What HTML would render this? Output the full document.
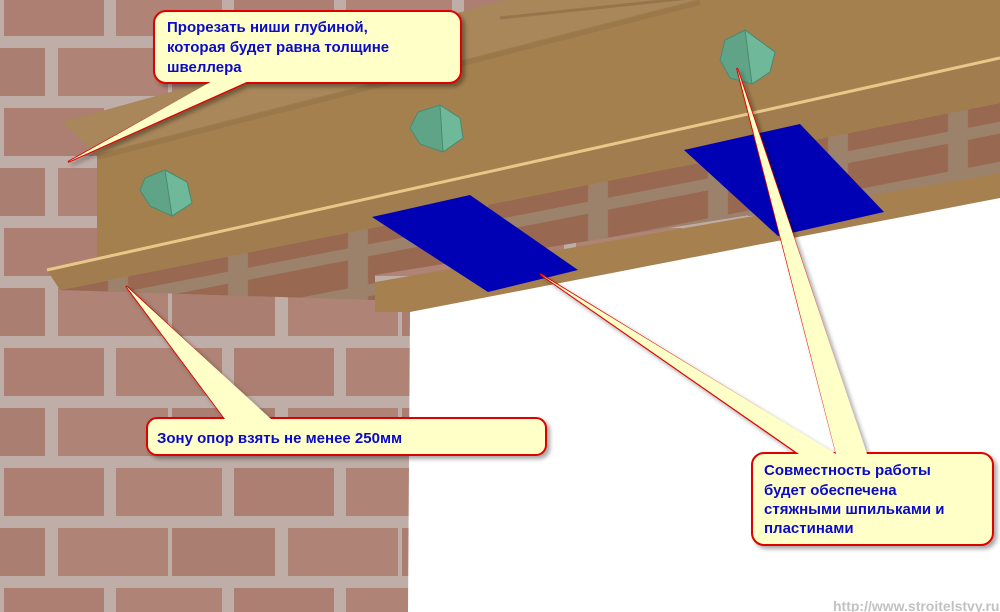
<!DOCTYPE html>
<html><head><meta charset="utf-8"><style>
html,body{margin:0;padding:0;background:#fff;}
svg{display:block}
text{font-family:"Liberation Sans",Arial,sans-serif;font-weight:bold;font-size:15px;fill:#0a0ac8}
</style></head><body>
<svg width="1000" height="612" viewBox="0 0 1000 612" xmlns="http://www.w3.org/2000/svg">
<defs>
<pattern id="brick" x="0" y="-20" width="230" height="120" patternUnits="userSpaceOnUse">
<rect width="230" height="120" fill="#bba9a2"/>
<rect x="4" y="8" width="100" height="48" fill="#a46f61"/>
<rect x="116" y="8" width="106" height="48" fill="#a77363"/>
<rect x="-60" y="68" width="105" height="48" fill="#a26d60"/>
<rect x="58" y="68" width="110" height="48" fill="#a77363"/>
<rect x="172" y="68" width="105" height="48" fill="#a26d60"/>
</pattern>
<pattern id="brick2" x="0" y="0" width="120" height="40" patternUnits="userSpaceOnUse" patternTransform="skewY(-11)">
<rect width="120" height="40" fill="#9a8470"/>
<rect x="8" y="8" width="100" height="28" fill="#955f48"/>
</pattern>
<filter id="sh" x="-10%" y="-10%" width="130%" height="140%"><feDropShadow dx="3" dy="3" stdDeviation="2" flood-color="#000" flood-opacity="0.35"/></filter>
</defs>
<rect width="1000" height="612" fill="url(#brick)"/>
<rect width="1000" height="612" fill="#d0c4c0" opacity="0.2"/>
<!-- bricks between channels -->
<polygon points="60,290 1000,103 1000,175 375,275 375,300" fill="url(#brick2)"/>
<polygon points="60,290 1000,103 1000,175 375,275 375,300" fill="#a07a60" opacity="0.35"/>
<!-- lower channel -->
<polygon points="375,282 1000,173 1000,198 410,312 375,312" fill="#a6814f"/>
<!-- white -->
<polygon points="410,312 1000,198 1000,612 408,612" fill="#ffffff"/>
<!-- main beam web -->
<polygon points="62,122 505,0 1000,0 1000,58 47,270 97,257 97,155" fill="#a5804f"/>
<polygon points="62,122 505,0 700,0 97,155" fill="#a9875a"/>
<line x1="97" y1="157" x2="700" y2="2" stroke="#8a6a40" stroke-width="6" opacity="0.35"/>
<line x1="500" y1="18" x2="690" y2="-2" stroke="#7a5c38" stroke-width="3" opacity="0.4"/>
<!-- bottom flange -->
<polygon points="47,270 1000,58 1000,103 60,290" fill="#a07c4e"/>
<line x1="47" y1="270" x2="1000" y2="58" stroke="#e8c888" stroke-width="3"/>
<!-- plates -->
<polygon points="372,217 470,195 578,270 488,292" fill="#0000b4"/>
<polygon points="684,150 800,124 884,212 778,236" fill="#0000b4"/>
<!-- nuts -->
<g fill="#5fa487" stroke="#4a8a70" stroke-width="1">
<polygon points="145,178 165,170 187,182 192,203 172,216 150,206 140,190"/>
<polygon points="165,170 187,182 192,203 172,216" fill="#70b89a"/>
<polygon points="418,112 440,105 460,118 463,138 443,152 420,144 410,128"/>
<polygon points="440,105 460,118 463,138 443,152" fill="#70b89a"/>
<polygon points="725,40 745,30 775,52 770,72 752,84 730,78 720,60"/>
<polygon points="745,30 775,52 770,72 752,84" fill="#70b89a"/>
</g>
<!-- callout 1 -->
<g filter="url(#sh)">
<polygon points="215,81 250,81 68,162" fill="#ffffc8" stroke="#e00000" stroke-width="2"/>
<rect x="154" y="11" width="307" height="72" rx="12" fill="#ffffc8" stroke="#e00000" stroke-width="2"/>
<polygon points="214,80 251,80 68,162" fill="#ffffc8"/>
</g>
<text x="167" y="32">Прорезать ниши глубиной,</text>
<text x="167" y="52">которая будет равна толщине</text>
<text x="167" y="72">швеллера</text>
<!-- callout 2 -->
<g filter="url(#sh)">
<polygon points="226,420 270,420 126,286" fill="#ffffc8" stroke="#e00000" stroke-width="2"/>
<rect x="147" y="418" width="399" height="37" rx="10" fill="#ffffc8" stroke="#e00000" stroke-width="2"/>
<polygon points="225,419 271,419 126,286" fill="#ffffc8"/>
</g>
<text x="157" y="443">Зону опор взять не менее 250мм</text>
<!-- callout 3 -->
<g filter="url(#sh)">
<polygon points="800,455 835,455 540,274" fill="#ffffc8" stroke="#e00000" stroke-width="2"/>
<polygon points="837,455 866,455 737,68" fill="#ffffc8" stroke="#e00000" stroke-width="2"/>
<rect x="752" y="453" width="241" height="92" rx="12" fill="#ffffc8" stroke="#e00000" stroke-width="2"/>
<polygon points="799,454 836,454 540,274" fill="#ffffc8"/>
<polygon points="836,454 867,454 737,68" fill="#ffffc8"/>
</g>
<text x="764" y="475">Совместность работы</text>
<text x="764" y="495">будет обеспечена</text>
<text x="764" y="514">стяжными шпильками и</text>
<text x="764" y="533">пластинами</text>
<text x="833" y="611" style="font-size:14px;fill:#999;opacity:0.6">http://www.stroitelstvy.ru</text>
</svg>
</body></html>
